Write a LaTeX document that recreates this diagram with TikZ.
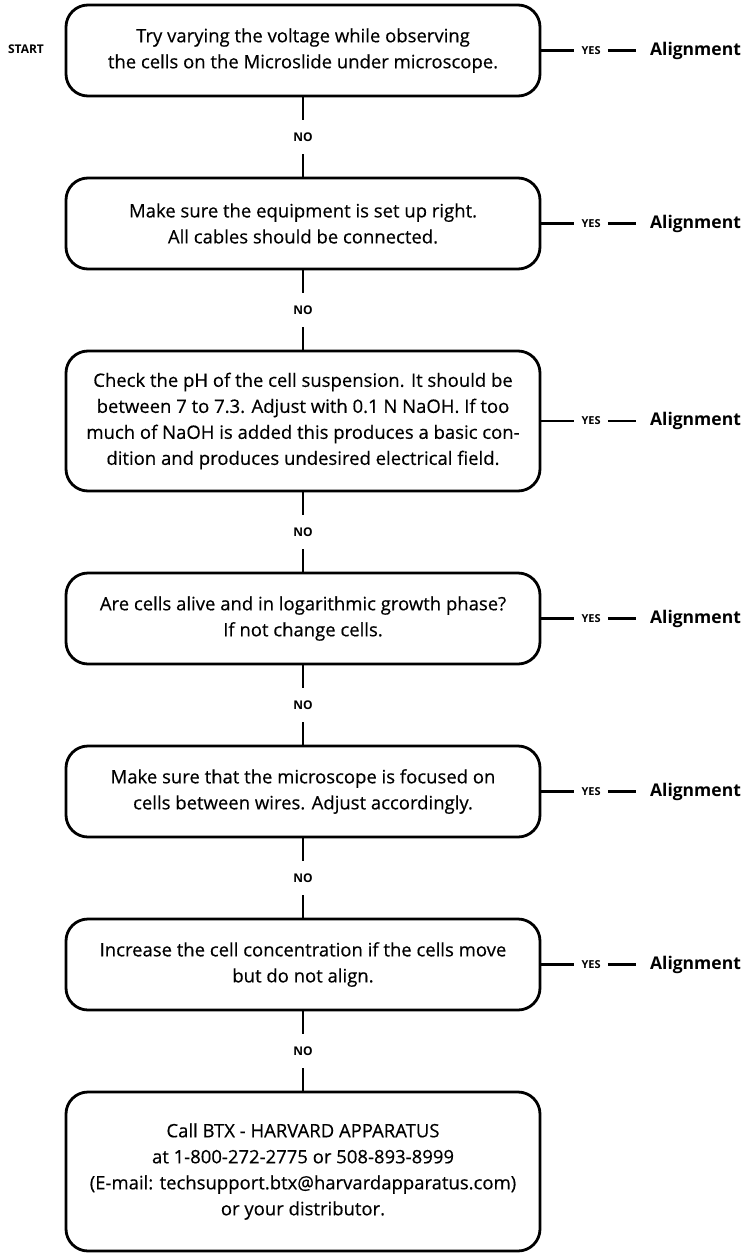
\documentclass[tikz,border=0pt]{standalone}
\usepackage{fontspec}
\setmainfont{Open Sans}
\newfontfamily\bodyfont{Open Sans}[FakeBold=0.4]
\begin{document}
\begin{tikzpicture}[x=1pt,y=-1pt,
  box/.style={draw, line width=2.8pt, rounded corners=22pt, minimum width=474pt, align=center, inner sep=0pt,
    font=\bodyfont\fontsize{18.5pt}{26pt}\selectfont},
  nolbl/.style={font=\bfseries\fontsize{12pt}{14pt}\selectfont, inner sep=0pt, minimum height=34pt},
  yeslbl/.style={font=\bfseries\fontsize{11pt}{14pt}\selectfont, inner xsep=7pt, inner ysep=0pt},
  alignlbl/.style={font=\bfseries\fontsize{17.5pt}{20pt}\selectfont, inner xsep=14pt, inner ysep=0pt, anchor=west},
  conn/.style={line width=2.6pt}
]
\useasboundingbox (0,0) rectangle (747,1253);

\node[font=\bfseries\fontsize{12pt}{14pt}\selectfont, inner sep=0pt] (start) at (26,49) {START};

\node[box, minimum height=91pt] (b1) at (303,50.5) {Try varying the voltage while observing\\the cells on the Microslide under microscope.};
\node[box, minimum height=91pt] (b2) at (303,223.5) {Make sure the equipment is set up right.\\All cables should be connected.};
\node[box, minimum height=140pt] (b3) at (303,421) {Check the pH of the cell suspension. It should be\\between 7 to 7.3. Adjust with 0.1 N NaOH. If too\\much of NaOH is added this produces a basic con-\\dition and produces undesired electrical field.};
\node[box, minimum height=91pt] (b4) at (303,618.5) {Are cells alive and in logarithmic growth phase?\\If not change cells.};
\node[box, minimum height=91pt] (b5) at (303,791.5) {Make sure that the microscope is focused on\\cells between wires. Adjust accordingly.};
\node[box, minimum height=91pt] (b6) at (303,964.5) {Increase the cell concentration if the cells move\\but do not align.};
\node[box, minimum height=159pt] (b7) at (303,1171.5) {Call BTX - HARVARD APPARATUS\\at 1-800-272-2775 or 508-893-8999\\(E-mail: techsupport.btx@harvardapparatus.com)\\or your distributor.};

\foreach \i/\j/\y in {1/2/137,2/3/310,3/4/532,4/5/705,5/6/878,6/7/1051}{
  \node[nolbl] (no\i) at (303,\y) {NO};
  \draw[conn] (b\i.south) -- (no\i.north);
  \draw[conn] (no\i.south) -- (b\j.north);
}

\foreach \i in {1,...,6}{
  \node[yeslbl, anchor=west] (yes\i) at ([xshift=33pt]b\i.east) {YES};
  \node[alignlbl] (al\i) at ([xshift=28pt]yes\i.east) {Alignment};
  \draw[conn] (b\i.east) -- (yes\i.west);
  \draw[conn] (yes\i.east) -- (al\i.west);
}
\end{tikzpicture}
\end{document}
